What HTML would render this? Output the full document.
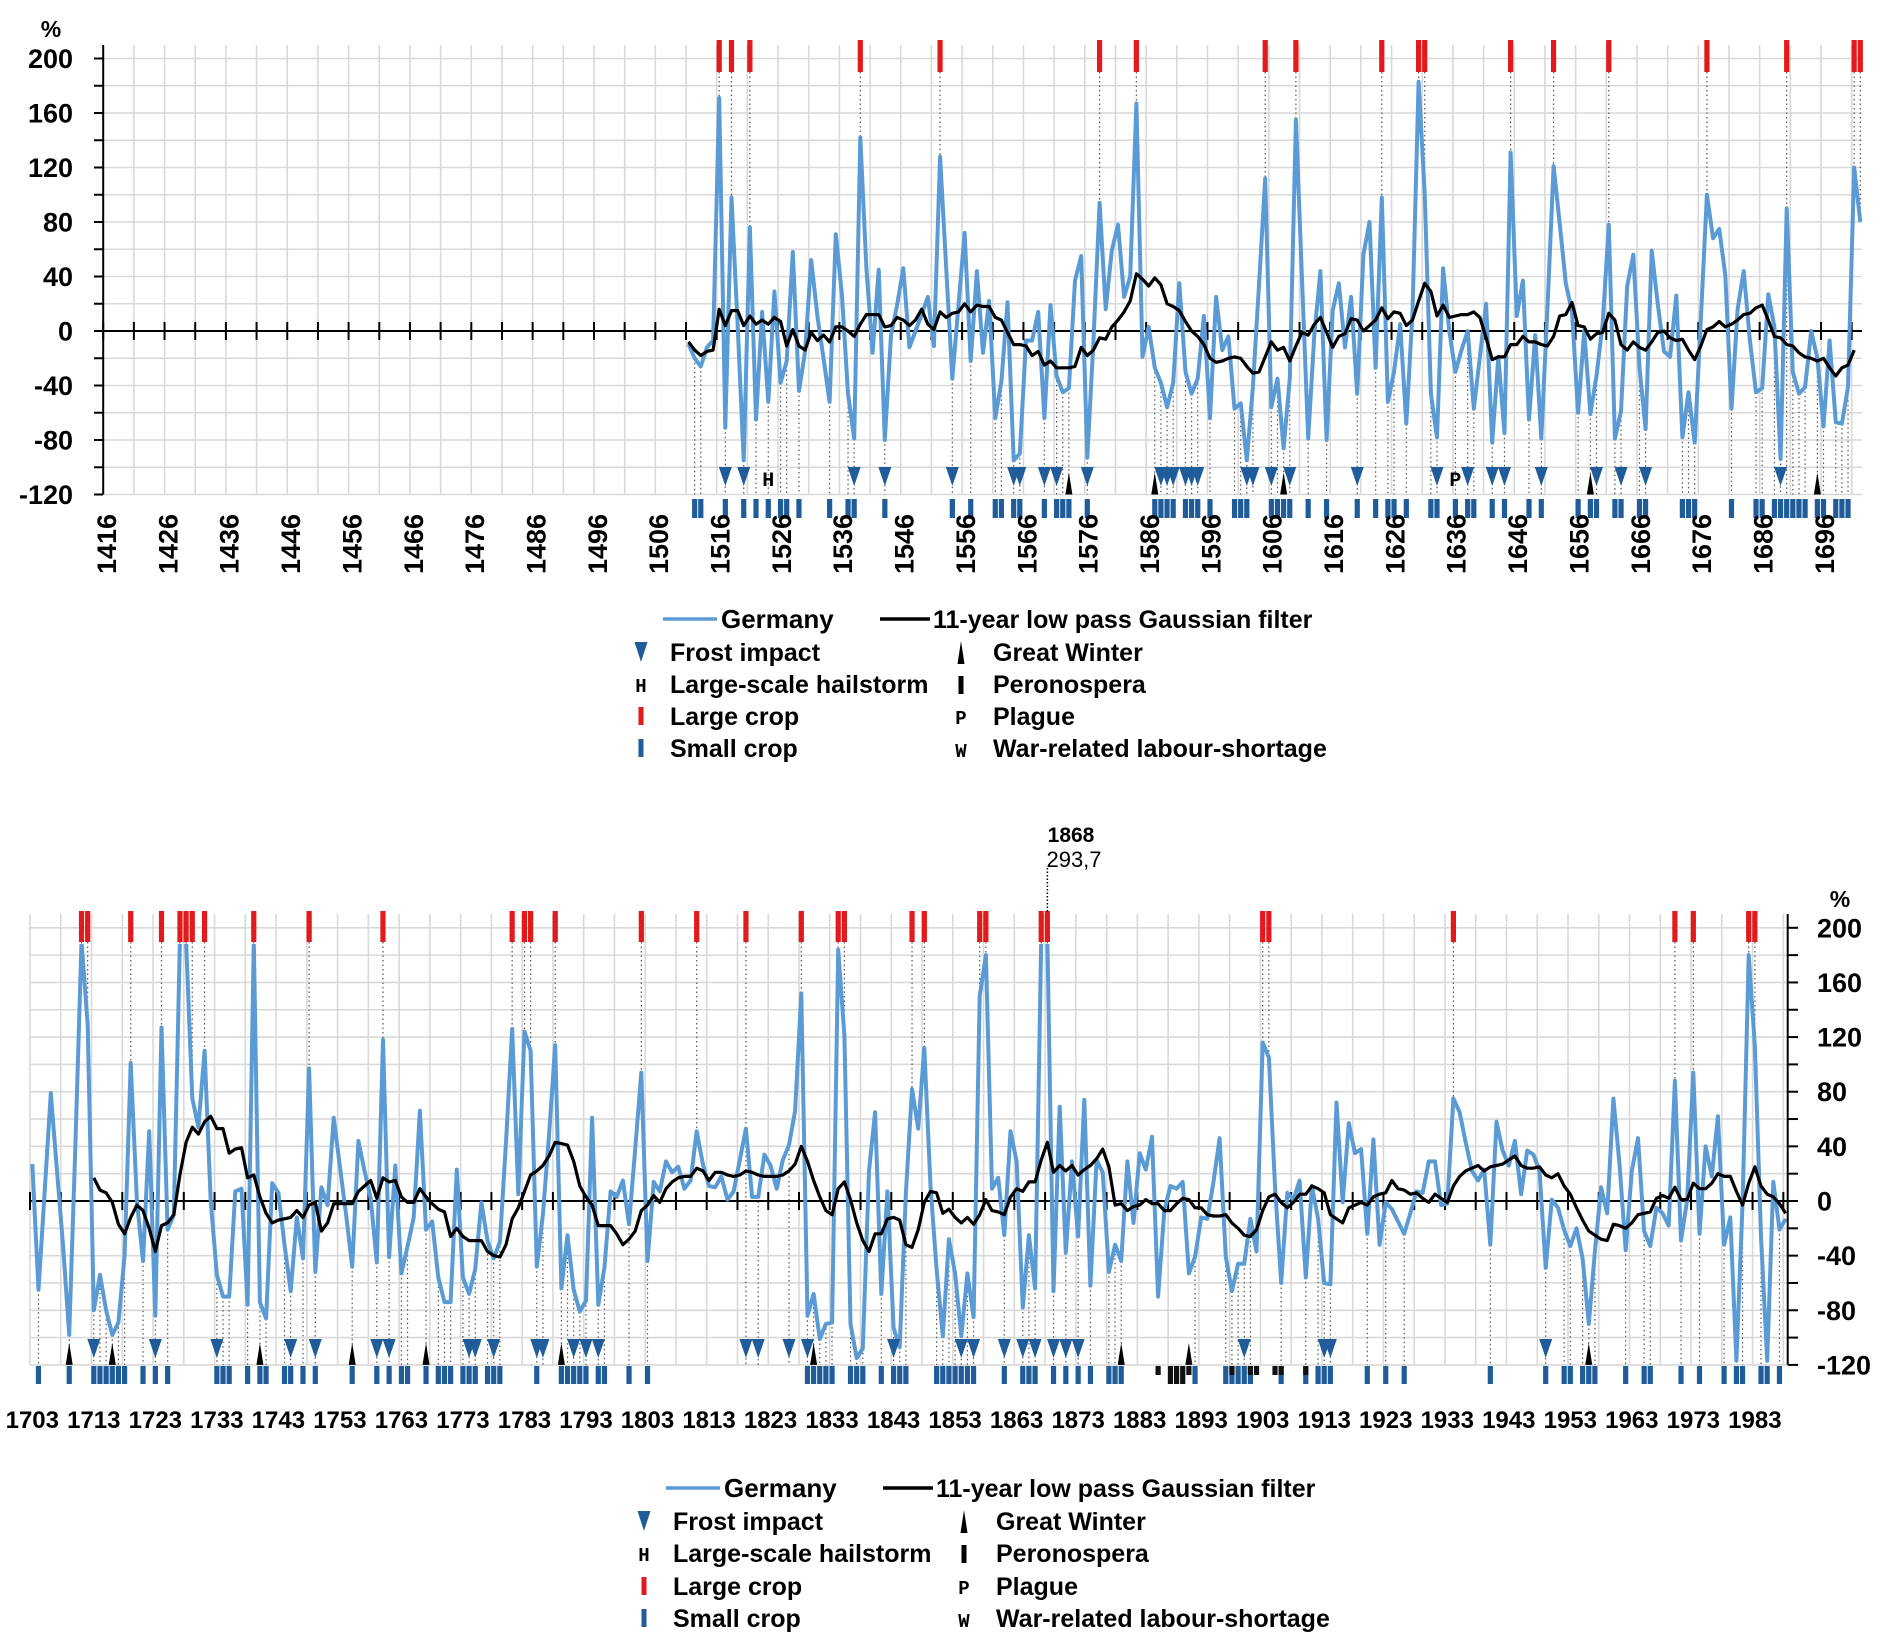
<!DOCTYPE html>
<html><head><meta charset="utf-8"><style>
html,body{margin:0;padding:0;background:#fff;}
svg{display:block;font-family:"Liberation Sans",sans-serif;}
</style></head><body>
<svg id="chart" width="1892" height="1646" viewBox="0 0 1892 1646" xmlns="http://www.w3.org/2000/svg">
<defs>
<clipPath id="clipTop"><rect x="103" y="40" width="1770" height="460"/></clipPath>
<clipPath id="clipBot"><rect x="28" y="944" width="1760" height="425"/></clipPath>
</defs>
<g id="top"></g>
<g id="bot"></g>
<g id="legends"></g>
</svg>
<script>
// ---------- DATA ----------
const topStart = 1511;
const topValues = [
-9.5,-20,-26,-12,-7,171,-71,98,5,-95,
76,-65,14,-52,29,-38,-22,58,-44,-15,
52,11,-20,-52,71,27,-46,-79,142,46,
-16,45,-80,-3,19,46,-12,0,12,25,
-11,128,46,-35,19,72,-22,44,-16,22,
-64,-37,21,-95,-90,-7,-7,14,-64,19,
-33,-45,-42,37,55,-93,-8,94,16,59,
78,25,40,167,-19,3,-27,-38,-56,-38,
35,-30,-46,-35,11,-64,25,-14,-4,-57,
-53,-95,-41,35,112,-56,-35,-86,-35,155,
38,-79,-3,44,-80,15,35,-12,25,-46,
56,80,-27,98,-52,-30,5,-68,14,183,
101,-46,-78,46,0,-30,-14,0,-57,-19,
20,-82,-19,-75,131,11,37,-65,-3,-79,
16,121,79,35,14,-60,0,-61,-33,5,
78,-79,-59,33,56,-27,-72,59,19,-15,
-19,26,-78,-45,-82,8,100,68,75,41,
-57,16,44,-7,-45,-42,27,3,-94,90,
-30,-46,-41,0,-20,-70,-7,-67,-68,-41,
120,80];
const topFilterStart = 1511;
const topFilter = [
-8,-14,-18,-15,-14,16,4,15,15,4,
11,5,8,5,10,7,-11,1,-11,-14,
-1,-7,-3,-8,3,3,0,-4,5,12,
12,12,3,4,10,8,4,8,16,5,
1,14,10,13,14,20,14,19,18,18,
10,8,-1,-10,-10,-11,-18,-15,-25,-22,
-27,-27,-27,-26,-12,-18,-14,-5,-6,3,
8,14,22,42,38,33,39,34,20,18,
15,7,0,-4,-10,-20,-23,-22,-20,-19,
-20,-26,-31,-30,-19,-8,-14,-12,-22,-11,
-1,-3,5,10,-1,-12,-4,-2,9,8,
0,4,8,17,9,14,13,4,8,22,
35,29,11,19,10,11,12,12,14,10,
-5,-21,-19,-19,-10,-10,-4,-8,-8,-10,
-11,-4,11,12,21,4,3,-6,-2,-1,
13,8,-10,-14,-8,-12,-14,-8,-1,0,
-5,-7,-6,-14,-21,-11,1,3,7,3,
5,8,12,13,17,19,8,-4,-5,-10,
-11,-16,-19,-20,-22,-20,-27,-33,-27,-25,
-14];
const topLargeCrop = [1516,1518,1521,1539,1552,1578,1584,1605,1610,1624,1630,1631,1645,1652,1661,1677,1690,1701,1702];
const topSmallCrop = [1512,1513,1517,1520,1522,1524,1526,1527,1529,1534,1537,1538,1543,1554,1557,1561,1562,1564,1565,1569,1571,1572,1573,1576,1587,1588,1589,1590,1592,1593,1594,1596,1600,1601,1602,1606,1607,1608,1609,1612,1615,1620,1623,1625,1626,1628,1632,1633,1636,1638,1639,1642,1644,1648,1650,1656,1658,1659,1662,1663,1666,1667,1673,1674,1675,1681,1685,1686,1688,1689,1690,1691,1692,1693,1695,1696,1698,1699,1700];
const topFrost = [1517,1520,1538,1543,1554,1564,1565,1569,1571,1576,1588,1589,1590,1592,1593,1594,1602,1603,1606,1609,1620,1633,1638,1642,1644,1650,1659,1663,1667,1689];
const topGreatWinter = [1573,1587,1608,1658,1695];
const topHail = [1524];
const topPlague = [1636];
const topTickLabels = ["1416","1426","1436","1446","1456","1466","1476","1486","1496","1506","1516","1526","1536","1546","1556","1566","1576","1586","1596","1606","1616","1626","1636","1646","1656","1666","1676","1686","1696"];
const yTickLabels = ["200","160","120","80","40","0","-40","-80","-120"];

const botStart = 1703;
const botValues = [
27,-65,6,79,23,-33,-98,41,190,129,
-80,-54,-80,-98,-89,-40,101,0,-44,51,
-84,127,-21,-10,190,190,75,54,110,0,
-54,-70,-70,7,9,-76,190,-74,-86,13,
6,-32,-66,-12,-42,97,-52,10,-3,61,
25,-10,-48,44,22,2,-45,118,-41,26,
-53,-33,-12,66,-21,-15,-56,-74,-74,23,
-56,-68,-50,-1,-29,-42,-30,43,126,5,
124,110,-48,-10,49,114,-64,-25,-65,-81,
-73,61,-76,-49,7,3,15,-17,38,94,
-44,14,7,29,21,25,9,15,51,27,
11,10,18,1,7,30,53,3,3,34,
26,9,30,41,66,152,-84,-68,-101,-90,
-89,184,121,-90,-115,-108,22,65,-68,7,
-93,-107,6,82,53,112,11,-50,-99,-28,
-53,-99,-53,-85,150,180,9,17,-25,51,
29,-78,-25,-64,190,190,-66,69,-38,29,
-26,74,-62,30,21,-52,-32,-44,29,-16,
35,23,47,-70,-7,11,9,14,-53,-41,
-12,-13,14,46,-41,-66,-46,-46,-13,-37,
116,105,11,-60,6,1,15,-56,11,-13,
-60,-61,72,-1,57,35,38,-24,45,-32,
-1,-6,-15,-24,-9,7,6,29,29,-3,
-2,75,65,43,22,15,23,-32,58,37,
26,44,5,37,34,22,-49,1,-5,-21,
-33,-20,-42,-90,-37,10,-9,75,27,-36,
22,46,-22,-33,-5,-9,-18,88,-29,1,
94,-24,40,18,62,-32,-12,-117,-1,180,
113,-26,-117,14,-21,-13];
const botFilterStart = 1713;
const botFilter = [
17,8,6,-1,-17,-24,-12,-3,-7,-20,
-37,-18,-16,-10,19,43,54,49,58,62,
53,53,35,38,39,17,19,3,-9,-16,
-14,-13,-12,-7,-12,-3,-1,-22,-16,-2,
-2,-2,-2,7,11,15,2,17,14,15,
3,-1,-1,9,3,-2,-6,-8,-26,-20,
-26,-29,-29,-29,-37,-40,-41,-32,-13,-5,
7,19,22,26,33,43,42,41,29,11,
3,-3,-18,-18,-18,-24,-32,-28,-22,-7,
-3,4,-1,9,14,17,18,18,24,22,
15,21,21,19,18,19,22,21,19,18,
18,18,19,22,27,40,29,15,3,-7,
-10,9,14,1,-16,-29,-37,-24,-24,-13,
-12,-14,-32,-34,-21,-1,7,6,-9,-6,
-12,-16,-12,-17,-10,1,-7,-8,-10,3,
9,7,14,14,30,43,21,26,22,26,
19,23,26,31,38,25,-3,-2,-7,-4,
-3,1,-2,-2,-7,-7,-2,2,1,-5,
-5,-10,-11,-11,-10,-16,-20,-25,-26,-21,
-7,3,5,-1,-5,-1,5,5,11,9,
6,-10,-13,-16,-5,-3,-1,-3,3,5,
6,15,9,8,5,6,2,-1,5,2,
-1,11,18,22,24,26,22,25,26,27,
30,33,26,24,24,25,19,17,20,11,
5,-5,-14,-22,-25,-28,-29,-17,-18,-20,
-16,-10,-9,-8,2,4,2,10,1,1,
13,9,9,13,20,18,18,7,-3,13,
25,11,5,3,-2,-9];
const botLargeCrop = [1711,1712,1719,1724,1727,1728,1729,1731,1739,1748,1760,1781,1783,1784,1788,1802,1811,1819,1828,1834,1835,1846,1848,1857,1858,1867,1868,1903,1904,1934,1970,1973,1982,1983];
const botSmallCrop = [1704,1709,1713,1714,1715,1716,1717,1718,1721,1723,1725,1733,1734,1735,1738,1740,1741,1744,1745,1747,1749,1755,1759,1761,1763,1764,1767,1769,1770,1771,1773,1774,1775,1777,1778,1779,1785,1789,1790,1791,1792,1793,1795,1796,1800,1803,1829,1830,1831,1832,1833,1836,1837,1838,1841,1843,1844,1845,1850,1851,1852,1853,1854,1855,1856,1861,1864,1865,1866,1869,1871,1873,1875,1878,1879,1880,1892,1897,1898,1899,1900,1901,1906,1910,1912,1913,1914,1920,1923,1926,1940,1949,1952,1953,1955,1956,1957,1962,1965,1966,1971,1974,1978,1980,1981,1984,1985,1987];
const botFrost = [1713,1723,1733,1745,1749,1759,1761,1774,1775,1778,1785,1786,1791,1793,1795,1819,1821,1826,1829,1843,1854,1856,1861,1864,1866,1869,1871,1873,1900,1913,1914,1949];
const botGreatWinter = [1709,1716,1740,1755,1767,1789,1830,1880,1891,1956];
const botPeronospera = [1886,1888,1889,1890,1891,1898,1901,1902,1905,1906,1910];
const botTickLabels = ["1703","1713","1723","1733","1743","1753","1763","1773","1783","1793","1803","1813","1823","1833","1843","1853","1863","1873","1883","1893","1903","1913","1923","1933","1943","1953","1963","1973","1983"];

// ---------- SCALES ----------
const PX = 6.152;
const PXT = 6.135;
function xT(yr){ return 105.7 + (yr-1416)*PXT; }
function yT(v){ return 331 - v*1.3625; }
function xB(yr){ return 32.3 + (yr-1703)*PX; }
function yB(v){ return 1201 - v*1.366; }

const NS = "http://www.w3.org/2000/svg";
function mk(parent, tag, attrs){
  const el = document.createElementNS(NS, tag);
  for (const k in attrs) el.setAttribute(k, attrs[k]);
  parent.appendChild(el);
  return el;
}
const BLUE = "#5b9bd5", DARK = "#1f5c99", RED = "#e31a1c", GRID = "#d9d9d9";

function panel(g, cfg){
  for (let v=-120; v<=200; v+=20){
    const l = mk(g,'line',{x1:cfg.gx0,x2:cfg.gx1,y1:cfg.y(v),y2:cfg.y(v),stroke:GRID,'stroke-width':1.6});
    
    
  }
  for (let k=0; k<=cfg.nv; k++){
    const x = cfg.vx0 + k*cfg.px*5;
    const l = mk(g,'line',{x1:x,x2:x,y1:cfg.vtop,y2:cfg.y(-120),stroke:GRID,'stroke-width':1.6});
    
    
  }
  const yrVal = (yr)=>{ const i=yr-cfg.start; return (i>=0&&i<cfg.values.length)?Math.min(cfg.values[i],188):0; };
  cfg.large.forEach(yr=>{
    const l = mk(g,'line',{x1:cfg.x(yr),x2:cfg.x(yr),y1:cfg.redBot,y2:cfg.y(yrVal(yr)),stroke:'#555','stroke-width':1.2,'stroke-dasharray':'1.5 3'});
    
    
  });
  const lowYears = Array.from(new Set(cfg.small.concat(cfg.frost)));
  lowYears.forEach(yr=>{
    const l = mk(g,'line',{x1:cfg.x(yr),x2:cfg.x(yr),y1:cfg.y(yrVal(yr)),y2:cfg.y(-120),stroke:'#555','stroke-width':1.2,'stroke-dasharray':'1.5 3'});
    
    
  });
  const z = mk(g,'line',{x1:cfg.gx0,x2:cfg.gx1,y1:cfg.y(0),y2:cfg.y(0),stroke:'#000','stroke-width':2});
  
  
  for (let k=0; k<=cfg.nv; k++){
    const x = cfg.vx0 + k*cfg.px*5;
    const t = mk(g,'line',{x1:x,x2:x,y1:cfg.y(0)-9,y2:cfg.y(0)+9,stroke:'#000','stroke-width':2});
    
    
  }
  const clip = mk(g,'g',{'clip-path':cfg.clip});
  
  
  let d = cfg.values.map((v,i)=>(i?'L':'M')+cfg.x(cfg.start+i).toFixed(1)+','+cfg.y(v).toFixed(1)).join('');
  const p = mk(clip,'path',{d:d,fill:'none',stroke:BLUE,'stroke-width':4,'stroke-linejoin':'round'});
  
  
  d = cfg.filter.map((v,i)=>(i?'L':'M')+cfg.x(cfg.fstart+i).toFixed(1)+','+cfg.y(v).toFixed(1)).join('');
  const f = mk(clip,'path',{d:d,fill:'none',stroke:'#000','stroke-width':3.2,'stroke-linejoin':'round'});
  
  
  cfg.large.forEach(yr=>{
    const r = mk(g,'rect',{x:cfg.x(yr)-2.6,y:cfg.redTop,width:5.2,height:cfg.redBot-cfg.redTop,fill:RED});
    
    
  });
  cfg.small.forEach(yr=>{
    const r = mk(g,'rect',{x:cfg.x(yr)-2.6,y:cfg.sTop,width:5.2,height:cfg.sBot-cfg.sTop,fill:DARK});
    
    
  });
  cfg.frost.forEach(yr=>{
    const x=cfg.x(yr);
    const t = mk(g,'polygon',{points:`${x-6.5},${cfg.fTop} ${x+6.5},${cfg.fTop} ${x},${cfg.fTop+19}`,fill:DARK});
    
    
  });
  cfg.gw.forEach(yr=>{
    const x=cfg.x(yr), b=cfg.y(-120);
    const t = mk(g,'polygon',{points:`${x-3.5},${b} ${x+3.5},${b} ${x},${b-22}`,fill:'#000'});
    
    
  });
}

// ---------- TOP PANEL ----------
const gT = document.getElementById('top');
panel(gT,{x:xT,y:yT,px:PXT,start:topStart,values:topValues,fstart:topFilterStart,filter:topFilter,
  gx0:103.2,gx1:1862,vx0:103.2,nv:57,vtop:45,clip:'url(#clipTop)',
  large:topLargeCrop,small:topSmallCrop,frost:topFrost,gw:topGreatWinter,
  redTop:40,redBot:72,sTop:499,sBot:518,fTop:467});
let ax = mk(gT,'line',{x1:103.2,x2:103.2,y1:45,y2:yT(-120),stroke:'#000','stroke-width':2});


for (let v=-120; v<=200; v+=20){
  const t = mk(gT,'line',{x1:94,x2:103,y1:yT(v),y2:yT(v),stroke:'#000','stroke-width':2});
  
  
}
yTickLabels.forEach(s=>{
  const t = mk(gT,'text',{x:73,y:yT(+s)+9.5,'text-anchor':'end','font-size':27,'font-weight':'bold'});
  t.textContent = s;
  
  
});
let pc = mk(gT,'text',{x:51,y:37,'text-anchor':'middle','font-size':23,'font-weight':'bold'});
pc.textContent='%';


topTickLabels.forEach(s=>{
  const x = 107 + (+s-1416)*PXT + 9;
  const t = mk(gT,'text',{x:0,y:0,transform:`translate(${x},574) rotate(-90)`,'font-size':27,'font-weight':'bold'});
  t.textContent = s;
  
  
});
topHail.forEach(yr=>{
  const t = mk(gT,'text',{x:xT(yr),y:486,'text-anchor':'middle','font-size':20,'font-family':'Liberation Mono, monospace','font-weight':'bold'});
  t.textContent='H';
  
  
});
topPlague.forEach(yr=>{
  const t = mk(gT,'text',{x:xT(yr),y:486,'text-anchor':'middle','font-size':20,'font-family':'Liberation Mono, monospace','font-weight':'bold'});
  t.textContent='P';
  
  
});

// ---------- BOTTOM PANEL ----------
const gB = document.getElementById('bot');
panel(gB,{x:xB,y:yB,px:PX,start:botStart,values:botValues,fstart:botFilterStart,filter:botFilter,
  gx0:30,gx1:1788,vx0:30,nv:57,vtop:914,clip:'url(#clipBot)',
  large:botLargeCrop,small:botSmallCrop,frost:botFrost,gw:botGreatWinter,
  redTop:911,redBot:942,sTop:1366,sBot:1384,fTop:1339});
botPeronospera.forEach((yr,i)=>{
  const full = (yr>=1888&&yr<=1890);
  const r = mk(gB,'rect',{x:xB(yr)-2.6,y:1366,width:5.2,height:full?18:9,fill:'#111'});
  
  
});
ax = mk(gB,'line',{x1:1787.7,x2:1787.7,y1:914,y2:yB(-120),stroke:'#000','stroke-width':2});


for (let v=-120; v<=200; v+=20){
  const t = mk(gB,'line',{x1:1788,x2:1798,y1:yB(v),y2:yB(v),stroke:'#000','stroke-width':2});
  
  
}
yTickLabels.forEach(s=>{
  const t = mk(gB,'text',{x:1817,y:yB(+s)+9.5,'font-size':27,'font-weight':'bold'});
  t.textContent = s;
  
  
});
pc = mk(gB,'text',{x:1840,y:907,'text-anchor':'middle','font-size':23,'font-weight':'bold'});
pc.textContent='%';


botTickLabels.forEach(s=>{
  const t = mk(gB,'text',{x:xB(+s),y:1428,'text-anchor':'middle','font-size':24,'font-weight':'bold'});
  t.textContent = s;
  
  
});
let an = mk(gB,'line',{x1:xB(1868),x2:xB(1868),y1:868,y2:912,stroke:'#000','stroke-width':1.5,'stroke-dasharray':'1.5 2'});


let at = mk(gB,'text',{x:1071,y:842,'text-anchor':'middle','font-size':21,'font-weight':'bold'});
at.textContent='1868';


at = mk(gB,'text',{x:1074,y:867,'text-anchor':'middle','font-size':22});
at.textContent='293,7';



// ---------- LEGENDS ----------
const gL = document.getElementById('legends');
function legend(dx, rows){
  const g = mk(gL,'g',{});
  
  
  const c1 = 670+dx, c2 = 993+dx;
  let e = mk(g,'line',{x1:663+dx,x2:717+dx,y1:rows[0],y2:rows[0],stroke:BLUE,'stroke-width':3.5});
  
  
  let t = mk(g,'text',{x:721+dx,y:rows[0]+9,'font-size':26,'font-weight':'bold'}); t.textContent='Germany';
  
  
  e = mk(g,'line',{x1:880+dx,x2:930+dx,y1:rows[0],y2:rows[0],stroke:'#000','stroke-width':3.5});
  
  
  t = mk(g,'text',{x:933+dx,y:rows[0]+9,'font-size':25,'font-weight':'bold'}); t.textContent='11-year low pass Gaussian filter';
  
  
  const labels1 = ['Frost impact','Large-scale hailstorm','Large crop','Small crop'];
  const labels2 = ['Great Winter','Peronospera','Plague','War-related labour-shortage'];
  for (let i=0;i<4;i++){
    const y = rows[i+1];
    t = mk(g,'text',{x:c1,y:y+9,'font-size':25,'font-weight':'bold'}); t.textContent=labels1[i];
    
    
    t = mk(g,'text',{x:c2,y:y+9,'font-size':25,'font-weight':'bold'}); t.textContent=labels2[i];
    
    
  }
  const mx = 641+dx, mx2 = 961+dx;
  e = mk(g,'polygon',{points:`${mx-6.5},${rows[1]-10} ${mx+6.5},${rows[1]-10} ${mx},${rows[1]+10}`,fill:DARK});
   
  t = mk(g,'text',{x:mx,y:rows[2]+8,'text-anchor':'middle','font-size':19,'font-family':'Liberation Mono, monospace','font-weight':'bold'}); t.textContent='H';
   
  e = mk(g,'rect',{x:mx-2.5,y:rows[3]-9,width:5,height:18,fill:RED});
   
  e = mk(g,'rect',{x:mx-2.5,y:rows[4]-9,width:5,height:18,fill:DARK});
   
  e = mk(g,'polygon',{points:`${mx2-3.5},${rows[1]+12} ${mx2+3.5},${rows[1]+12} ${mx2},${rows[1]-11}`,fill:'#000'});
   
  e = mk(g,'rect',{x:mx2-2.5,y:rows[2]-8,width:5,height:18,fill:'#000'});
   
  t = mk(g,'text',{x:mx2,y:rows[3]+8,'text-anchor':'middle','font-size':19,'font-family':'Liberation Mono, monospace','font-weight':'bold'}); t.textContent='P';
   
  t = mk(g,'text',{x:mx2,y:rows[4]+9,'text-anchor':'middle','font-size':19,'font-family':'Liberation Mono, monospace','font-weight':'bold'}); t.textContent='W';
   
}
legend(0,[619,652,684,716,748]);
legend(3,[1488,1521,1553,1586,1618]);
</script>
</body></html>
